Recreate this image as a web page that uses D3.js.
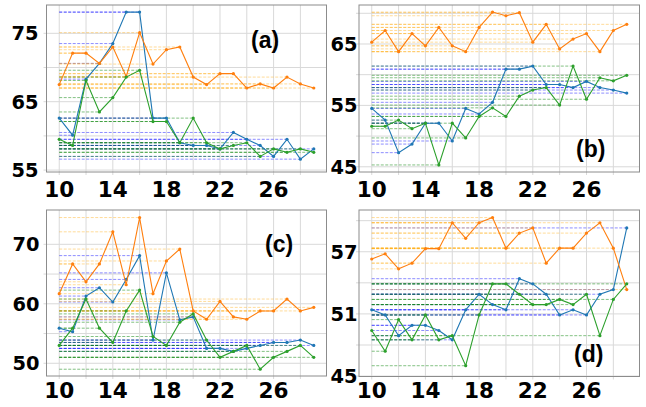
<!DOCTYPE html>
<html>
<head>
<meta charset="utf-8">
<script src="https://cdn.jsdelivr.net/npm/d3@7"></script>
<style>
  body { margin: 0; background: #fff; }
  svg { display: block; }
  .tick-label { font-family: "DejaVu Sans", "Liberation Sans", Arial, sans-serif; font-weight: bold; fill: #000; }
  .panel-tag { font-family: "Liberation Sans", Arial, sans-serif; font-weight: bold; fill: #000; }
</style>
</head>
<body>
<script>
const WIDTH = 646;
const HEIGHT = 407;

const epochs = [10, 11, 12, 13, 14, 15, 16, 17, 18, 19, 20, 21, 22, 23, 24, 25, 26, 27, 28, 29];
const xTickLabels = [10, 14, 18, 22, 26];
const xGrid = [10, 12, 14, 16, 18, 20, 22, 24, 26, 28];

// panel (a)
const aBlue   = [62.6, 60.1, 68.3, 70.6, 73.5, 78.1, 78.1, 62.6, 62.6, 59.0, 58.6, 58.6, 58.1, 60.5, 59.5, 58.6, 57.0, 59.5, 56.6, 58.1];
const aOrange = [67.5, 72.1, 72.1, 70.6, 73.0, 68.7, 75.1, 70.5, 72.6, 73.0, 68.6, 67.5, 69.1, 69.1, 67.0, 67.6, 67.0, 68.6, 67.6, 67.0];
const aGreen  = [59.5, 58.6, 68.1, 63.5, 65.6, 68.6, 69.6, 62.1, 62.1, 59.0, 62.6, 59.0, 58.1, 58.6, 59.0, 57.0, 58.1, 57.6, 58.1, 57.6];
const aGrid = [55, 60, 65, 70, 75];
const aLabels = [55, 65, 75];

// panel (b)
const bBlue   = [54.5, 52.6, 47.3, 48.7, 52.1, 52.1, 49.2, 54.5, 53.6, 55.5, 60.9, 60.9, 61.4, 58.4, 58.4, 57.9, 58.9, 57.9, 57.5, 57.0];
const bOrange = [65.3, 67.2, 63.75, 66.7, 64.7, 67.7, 64.7, 63.75, 67.7, 70.2, 69.6, 70.1, 65.3, 68.2, 64.2, 65.8, 66.7, 63.75, 67.2, 68.2];
const bGreen  = [51.6, 51.6, 52.6, 51.2, 52.1, 45.3, 52.1, 49.7, 53.2, 54.6, 53.2, 56.5, 57.5, 57.9, 55.05, 61.4, 56.0, 59.5, 59.0, 59.9];
const bGrid = [45, 50, 55, 60, 65, 70];
const bLabels = [45, 55, 65];

// panel (c)
const cBlue   = [55.9, 55.3, 61.3, 62.7, 60.3, 64.1, 68.1, 53.9, 65.2, 57.3, 57.8, 52.5, 52.5, 52.0, 52.5, 53.0, 53.5, 53.5, 53.9, 53.0];
const cOrange = [61.7, 66.7, 63.7, 66.7, 72.1, 63.2, 74.5, 61.7, 67.2, 69.2, 58.8, 57.4, 60.4, 57.8, 57.4, 58.8, 58.8, 60.8, 58.8, 59.4];
const cGreen  = [53.0, 55.9, 60.8, 55.9, 53.5, 58.8, 62.3, 54.5, 53.0, 56.9, 58.3, 53.9, 51.0, 52.0, 53.0, 49.0, 51.0, 52.0, 53.0, 51.0];
const cGrid = [50, 55, 60, 65, 70];
const cLabels = [50, 60, 70];

// panel (d)
const dBlue   = [51.4, 50.9, 48.9, 49.9, 49.9, 49.4, 48.5, 51.4, 52.9, 51.9, 51.4, 54.4, 53.9, 52.9, 50.9, 51.4, 50.9, 52.9, 53.35, 59.3];
const dOrange = [56.3, 56.8, 55.35, 55.9, 57.3, 57.3, 59.8, 58.3, 59.8, 60.3, 57.35, 58.8, 59.3, 55.9, 57.35, 57.35, 58.8, 59.8, 57.35, 53.35];
const dGreen  = [49.4, 47.4, 50.45, 48.5, 50.9, 48.5, 48.9, 46.0, 50.9, 53.9, 53.9, 52.9, 51.9, 51.9, 52.4, 51.9, 52.9, 48.9, 52.4, 53.9];
const dGrid = [45, 48, 51, 54, 57, 60];
const dLabels = [45, 51, 57];

const LINE_COLORS = ['#1f77b4', '#ff7f0e', '#2ca02c'];
const DASH_COLORS = ['#0000ff', '#ffa500', '#008000'];
const DASH_OPACITY = [0.5, 0.45, 0.55];

const panels = [
  {name: '(a)', series: [aBlue, aOrange, aGreen], grid: aGrid, labels: aLabels, yDomain: [54.72, 79.14],
   box: {left: 46.5, right: 326.5, top: 5, bottom: 172}, yLabelRight: 38.5, xLabelBase: 197, tag: [251, 48]},
  {name: '(b)', series: [bBlue, bOrange, bGreen], grid: bGrid, labels: bLabels, yDomain: [44.15, 71.35],
   box: {left: 359, right: 639.5, top: 5, bottom: 172}, yLabelRight: 357.5, xLabelBase: 197, tag: [576, 157]},
  {name: '(c)', series: [cBlue, cOrange, cGreen], grid: cGrid, labels: cLabels, yDomain: [47.86, 75.77],
   box: {left: 46.5, right: 326.5, top: 210, bottom: 376}, yLabelRight: 39.5, xLabelBase: 398, tag: [265, 252]},
  {name: '(d)', series: [dBlue, dOrange, dGreen], grid: dGrid, labels: dLabels, yDomain: [44.96, 61.03],
   box: {left: 359, right: 639.5, top: 210, bottom: 376.5}, yLabelRight: 357.5, xLabelBase: 398, tag: [574, 362]}
];

const svg = d3.select('body').append('svg')
    .attr('width', WIDTH)
    .attr('height', HEIGHT);

var drawPanel = function (p) {
  var xScale = d3.scaleLinear().domain([9.05, 29.95]).range([p.box.left, p.box.right]);
  var yScale = d3.scaleLinear().domain(p.yDomain).range([p.box.bottom, p.box.top]);
  var g = svg.append('g');

  // grid
  g.selectAll('.vgrid').data(xGrid).enter().append('line')
      .attr('x1', d => xScale(d)).attr('x2', d => xScale(d))
      .attr('y1', p.box.top).attr('y2', p.box.bottom + 3)
      .attr('stroke', '#d9d9d9').attr('stroke-width', 1);
  g.selectAll('.hgrid').data(p.grid).enter().append('line')
      .attr('x1', p.box.left - 3).attr('x2', p.box.right)
      .attr('y1', d => yScale(d)).attr('y2', d => yScale(d))
      .attr('stroke', '#d9d9d9').attr('stroke-width', 1);

  // dashed reference lines from the first epoch to each point
  p.series.forEach(function (vals, si) {
    g.selectAll('.dash' + si).data(vals).enter().append('line')
        .attr('x1', xScale(epochs[0]))
        .attr('x2', (d, i) => xScale(epochs[i]))
        .attr('y1', d => yScale(d)).attr('y2', d => yScale(d))
        .attr('stroke', DASH_COLORS[si])
        .attr('stroke-opacity', DASH_OPACITY[si])
        .attr('stroke-width', 0.9)
        .attr('stroke-dasharray', '3,1.5');
  });

  // solid series
  var line = d3.line()
      .x((d, i) => xScale(epochs[i]))
      .y(d => yScale(d));
  p.series.forEach(function (vals, si) {
    g.append('path')
        .attr('d', line(vals))
        .attr('fill', 'none')
        .attr('stroke', LINE_COLORS[si])
        .attr('stroke-width', 1.1);
    g.selectAll('.pt' + si).data(vals).enter().append('circle')
        .attr('cx', (d, i) => xScale(epochs[i]))
        .attr('cy', d => yScale(d))
        .attr('r', 1.6)
        .attr('fill', LINE_COLORS[si]);
  });

  // frame
  g.append('rect')
      .attr('x', p.box.left).attr('y', p.box.top)
      .attr('width', p.box.right - p.box.left).attr('height', p.box.bottom - p.box.top)
      .attr('fill', 'none').attr('stroke', '#8c8c8c').attr('stroke-width', 1);

  // tick labels
  g.selectAll('.ylab').data(p.labels).enter().append('text')
      .attr('class', 'tick-label')
      .attr('x', p.yLabelRight)
      .attr('y', d => yScale(d) + 7)
      .attr('text-anchor', 'end')
      .attr('font-size', 19.5)
      .attr('textLength', 27)
      .attr('lengthAdjust', 'spacingAndGlyphs')
      .text(d => d);
  g.selectAll('.xlab').data(xTickLabels).enter().append('text')
      .attr('class', 'tick-label')
      .attr('x', d => xScale(d) - 15)
      .attr('y', p.xLabelBase)
      .attr('font-size', 20.5)
      .attr('textLength', 30)
      .attr('lengthAdjust', 'spacingAndGlyphs')
      .text(d => d);

  // panel tag
  g.append('text')
      .attr('class', 'panel-tag')
      .attr('x', p.tag[0])
      .attr('y', p.tag[1])
      .attr('font-size', 23)
      .text(p.name);
};

panels.forEach(drawPanel);
</script>
</body>
</html>
